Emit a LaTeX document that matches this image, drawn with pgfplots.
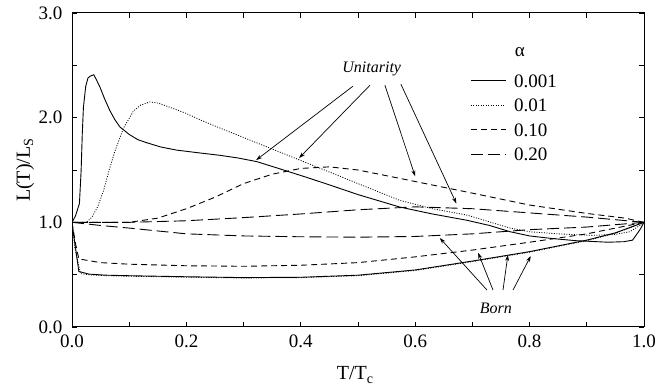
\documentclass[border=0pt]{standalone}
\usepackage{fontspec}
\setmainfont{Liberation Serif}
\usepackage{pgfplots}
\pgfplotsset{compat=1.18}
\usetikzlibrary{arrows.meta}

\pgfplotstableread{
x y
0 1.0
0.006 1.06
0.013 1.18
0.016 1.5
0.018 1.85
0.020 2.1
0.024 2.3
0.028 2.38
0.033 2.40
0.038 2.41
0.042 2.37
0.049 2.29
0.057 2.18
0.066 2.07
0.075 1.98
0.084 1.91
0.1 1.84
0.115 1.79
0.131 1.76
0.155 1.72
0.183 1.69
0.22 1.665
0.259 1.64
0.29 1.615
0.323 1.58
0.364 1.51
0.41 1.43
0.451 1.356
0.5 1.265
0.573 1.146
0.63 1.08
0.69 1.02
0.73 0.97
0.766 0.91
0.8 0.87
0.84 0.845
0.88 0.825
0.937 0.81
0.965 0.815
0.98 0.83
0.993 0.93
1.0 1.0
}\uaa
\pgfplotstableread{
x y
0 1.0
0.025 1.0
0.035 1.05
0.045 1.15
0.055 1.3
0.065 1.5
0.075 1.68
0.09 1.9
0.107 2.06
0.12 2.12
0.136 2.15
0.15 2.14
0.166 2.11
0.2 2.04
0.224 1.98
0.25 1.92
0.282 1.85
0.341 1.72
0.42 1.547
0.5 1.37
0.573 1.21
0.63 1.13
0.69 1.07
0.766 0.945
0.8 0.91
0.85 0.89
0.91 0.875
0.95 0.885
0.975 0.91
0.99 0.96
1.0 1.0
}\uab
\pgfplotstableread{
x y
0 1.0
0.1 1.0
0.15 1.04
0.2 1.13
0.25 1.24
0.3 1.37
0.35 1.46
0.4 1.515
0.45 1.53
0.5 1.50
0.573 1.42
0.6 1.39
0.69 1.29
0.8 1.165
0.9 1.085
0.967 1.04
1.0 1.0
}\uac
\pgfplotstableread{
x y
0 1.0
0.1 1.0
0.2 1.015
0.3 1.045
0.4 1.08
0.5 1.12
0.6 1.148
0.7 1.13
0.8 1.09
0.9 1.05
1.0 1.0
}\uad
\pgfplotstableread{
x y
0 1.0
0.005 0.80
0.012 0.53
0.03 0.505
0.06 0.495
0.1 0.49
0.2 0.48
0.3 0.472
0.4 0.475
0.5 0.495
0.6 0.545
0.7 0.63
0.8 0.72
0.9 0.83
0.95 0.9
1.0 1.0
}\baa
\pgfplotstableread{
x y
0 1.0
0.005 0.75
0.015 0.51
0.03 0.498
0.06 0.49
0.1 0.485
0.2 0.476
0.3 0.468
0.4 0.472
0.5 0.49
0.6 0.54
0.7 0.625
0.8 0.715
0.9 0.825
0.95 0.895
1.0 1.0
}\bab
\pgfplotstableread{
x y
0 1.0
0.006 0.80
0.012 0.65
0.05 0.615
0.1 0.60
0.2 0.585
0.3 0.58
0.4 0.59
0.5 0.615
0.6 0.67
0.7 0.735
0.8 0.81
0.9 0.89
1.0 1.0
}\bac
\pgfplotstableread{
x y
0 1.0
0.05 0.97
0.1 0.945
0.2 0.89
0.3 0.87
0.4 0.862
0.5 0.858
0.6 0.865
0.7 0.89
0.8 0.93
0.9 0.955
1.0 1.0
}\bad

\begin{document}
\begin{tikzpicture}
\begin{axis}[
  scale only axis, width=572pt, height=314pt,
  xmin=0, xmax=1, ymin=0, ymax=3,
  xtick={0,0.2,...,1.0}, ytick={0,1,2,3},
  minor x tick num=1, minor y tick num=1,
  tick align=inside, tick pos=both,
  major tick length=5pt, minor tick length=5pt,
  axis line style={line width=1pt},
  every tick/.style={black, line width=0.8pt},
  /pgf/number format/assume math mode=true,
  /pgf/number format/.cd, fixed, fixed zerofill, precision=1, /pgfplots/.cd,
  tick label style={font=\fontsize{19}{19}\selectfont},
  yticklabel style={xshift=-6pt},
  xticklabel style={yshift=-4pt},
  xlabel={T/T\textsubscript{c}},
  ylabel={L(T)/L\textsubscript{S}},
  label style={font=\fontsize{20}{20}\selectfont},
  xlabel style={at={([yshift=-53pt]axis description cs:0.495,0)}, anchor=base},
  ylabel style={at={([xshift=-42pt]axis description cs:0,0.5)}, anchor=base, rotate=0},
  legend cell align=left,
  legend style={at={(axis cs:0.696,2.416)}, anchor=north west, draw=none, fill=none,
    inner sep=0pt, row sep=11.5pt, font=\fontsize{19}{19}\selectfont,
    nodes={inner sep=0pt, text height=13pt, text depth=0pt},
    /tikz/every odd column/.style={column sep=8pt}},
  legend image code/.code={\draw[#1] (0pt,0pt) -- (35pt,0pt);},
  every axis plot/.append style={line width=0.9pt, black},
]
\addplot[solid] table {\uaa};
\addlegendentry{0.001}
\addplot[dash pattern=on 1pt off 1.5pt, line width=0.8pt] table {\uab};
\addlegendentry{0.01}
\addplot[dash pattern=on 6pt off 4pt] table {\uac};
\addlegendentry{0.10}
\addplot[dash pattern=on 12pt off 5pt] table {\uad};
\addlegendentry{0.20}
\addplot[solid, forget plot] table {\baa};
\addplot[dash pattern=on 1pt off 1.5pt, line width=0.8pt, forget plot] table {\bab};
\addplot[dash pattern=on 6pt off 4pt, forget plot] table {\bac};
\addplot[dash pattern=on 12pt off 5pt, forget plot] table {\bad};

\node[font=\fontsize{19}{19}\selectfont] at (axis cs:0.783,2.63) {α};
\node[font=\fontsize{16}{16}\selectfont\itshape] at (axis cs:0.524,2.47) {Unitarity};
\node[font=\fontsize{16}{16}\selectfont\itshape] at (axis cs:0.741,0.18) {Born};
\begin{scope}[line width=0.7pt, -{Stealth[length=6pt,width=4pt]}]
\draw (axis cs:0.491,2.30) -- (axis cs:0.322,1.595);
\draw (axis cs:0.521,2.31) -- (axis cs:0.397,1.614);
\draw (axis cs:0.547,2.31) -- (axis cs:0.600,1.44);
\draw (axis cs:0.575,2.32) -- (axis cs:0.672,1.18);
\draw (axis cs:0.7255,0.353) -- (axis cs:0.643,0.85);
\draw (axis cs:0.736,0.353) -- (axis cs:0.710,0.709);
\draw (axis cs:0.7535,0.353) -- (axis cs:0.762,0.688);
\draw (axis cs:0.771,0.353) -- (axis cs:0.802,0.678);
\end{scope}
\end{axis}
\pgfresetboundingbox
\path (-72pt,-60pt) rectangle (583pt,327pt);
\end{tikzpicture}
\end{document}
